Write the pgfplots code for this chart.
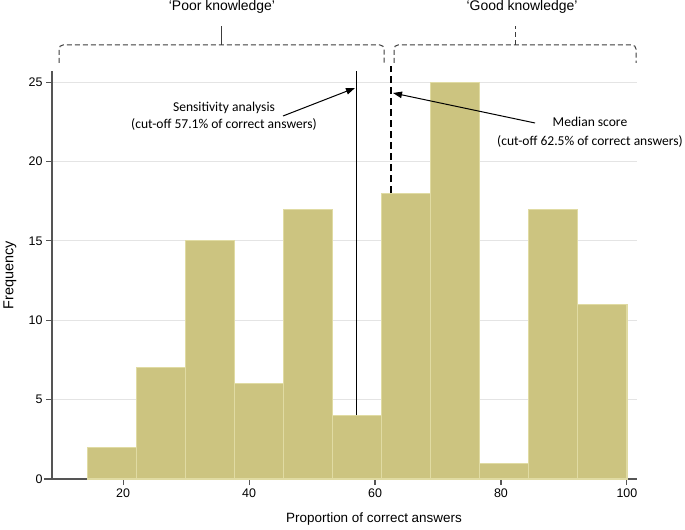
\documentclass[border=0pt]{standalone}
\usepackage{pgfplots}
\pgfplotsset{compat=1.18}
\usepackage{fontspec}
\setmainfont{Liberation Sans}
\newfontfamily\calib{Carlito}
\usetikzlibrary{arrows.meta}

\definecolor{barfill}{RGB}{204,196,128}
\definecolor{baredge}{RGB}{224,219,163}
\definecolor{axgray}{RGB}{85,85,85}
\definecolor{brgray}{RGB}{60,60,60}
\definecolor{gridgray}{RGB}{228,228,228}

\begin{document}
\begin{tikzpicture}
\begin{axis}[
  scale only axis,
  width=585bp, height=408bp,
  xmin=8.7, xmax=101.6,
  ymin=0, ymax=25.7,
  xtick={20,40,...,100},
  ytick={0,5,...,25},
  axis x line*=bottom,
  axis y line*=left,
  axis line style={-, axgray, line width=1.1bp},
  x axis line style={shorten <=-8bp},
  tick style={axgray, line width=1.1bp},
  tick align=outside,
  major tick length=6bp,
  ymajorgrids,
  grid style={gridgray, line width=0.9bp},
  tick label style={font=\fontsize{12.5}{14}\selectfont},
  /pgf/number format/assume math mode=true,
  clip=false,
]
% histogram, 11 bins of width 7.79 from 14.3 to 100
\addplot[ybar interval, fill=barfill, draw=baredge, line width=1.2bp] coordinates {
  (14.30,2) (22.09,7) (29.88,15) (37.67,6) (45.46,17) (53.25,4)
  (61.04,18) (68.83,25) (76.62,1) (84.41,17) (92.20,11) (100,11)
};
% cut-off lines
\addplot[black, line width=1.4bp] coordinates {(57.1,4) (57.1,25.7)};
\addplot[black, line width=1.5bp, dash pattern=on 7bp off 4bp] coordinates {(62.5,18) (62.5,26)};
\end{axis}

% annotations in pixel units of the reference (origin top left)
\begin{scope}[x=1bp, y=-1bp, shift={(-52bp,479bp)}]
  \useasboundingbox (0,0) rectangle (685,530);
  \begin{scope}[brgray, line width=1bp, dash pattern=on 5bp off 3bp, rounded corners=4bp]
    \draw (59,63) -- (59,45) -- (384,45) -- (384,63);
    \draw (394,63) -- (394,45) -- (636,45) -- (636,63);
  \end{scope}
  \draw[brgray, line width=1bp] (221,45) -- (221,26);
  \draw[brgray, line width=1bp, dash pattern=on 5bp off 3bp] (515,45) -- (515,26);
  \node[anchor=base, font=\fontsize{14}{16}\selectfont] at (222,11) {‘Poor knowledge’};
  \node[anchor=base, font=\fontsize{14}{16}\selectfont] at (522,11) {‘Good knowledge’};

  \node[align=center, font=\calib\fontsize{13.6}{17.5}\selectfont] at (224,116.5)
    {Sensitivity analysis\\(cut-off 57.1\% of correct answers)};
  \node[align=center, font=\calib\fontsize{13.6}{19}\selectfont] at (590,132)
    {Median score\\(cut-off 62.5\% of correct answers)};
  \draw[black, line width=1bp, -{Triangle[length=9bp,width=6.5bp]}] (283,116) -- (355,88);
  \draw[black, line width=1bp, -{Triangle[length=9bp,width=6.5bp]}] (535,123) -- (393,93);

  \node[font=\fontsize{13.5}{15}\selectfont] at (374,519) {Proportion of correct answers};
  \node[rotate=90, font=\fontsize{14.5}{16}\selectfont] at (10,275) {Frequency};
\end{scope}
\end{tikzpicture}
\end{document}
